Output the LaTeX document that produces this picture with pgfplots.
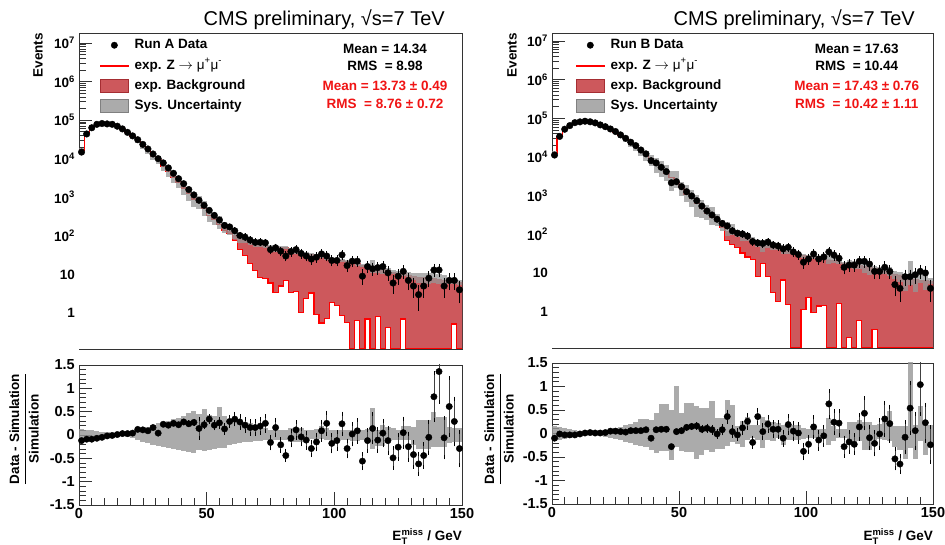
\documentclass[border=0pt]{standalone}
\usepackage{pgfplots}
\pgfplotsset{compat=1.18}
\usepackage{pgfplotstable}
\usepackage{amsmath}
\usepackage{fontspec}
\setmainfont{Liberation Sans}
\definecolor{bkgred}{RGB}{205,88,92}
\definecolor{bkgline}{RGB}{165,45,50}
\definecolor{zred}{RGB}{255,0,0}
\definecolor{sysgray}{RGB}{150,150,150}
\definecolor{statred}{RGB}{240,20,20}

\pgfplotstableread{
lo xc data derr mc z r rerr up dn
0 1 14800 122 16800 16800 -0.12 0.008 0.12 0.12
2 3 43600 209 47900 47900 -0.09 0.005 0.11 0.11
4 5 63100 251 69300 69300 -0.09 0.004 0.10 0.10
6 7 77600 279 83400 83400 -0.07 0.003 0.09 0.09
8 9 81300 285 85600 85600 -0.05 0.003 0.07 0.07
10 11 79400 282 81000 81000 -0.02 0.003 0.06 0.06
12 13 77600 279 78400 78400 -0.01 0.004 0.04 0.04
14 15 69200 263 68500 68500 0.01 0.004 0.03 0.03
16 17 58900 243 57200 57200 0.03 0.004 0.03 0.03
18 19 47900 219 46500 46500 0.03 0.005 0.04 0.04
20 21 38900 197 37400 37400 0.04 0.005 0.06 0.06
22 23 30900 176 27600 27600 0.12 0.006 0.10 0.10
24 25 23400 153 21100 21100 0.11 0.007 0.14 0.14
26 27 17800 133 16300 16300 0.09 0.008 0.18 0.18
28 29 13200 115 11400 11400 0.16 0.010 0.21 0.21
30 31 10000 100 9620 9620 0.04 0.010 0.25 0.24
32 33 7760 88 6310 6300 0.23 0.014 0.28 0.26
34 35 5750 76 4750 4740 0.21 0.016 0.31 0.28
36 37 4170 65 3340 3330 0.25 0.019 0.34 0.30
38 39 3020 55 2480 2470 0.22 0.022 0.37 0.32
40 41 2240 47 1750 1740 0.28 0.027 0.40 0.35
42 43 1580 40 1270 1260 0.24 0.031 0.48 0.37
44 45 1150 34 906 900 0.27 0.037 0.51 0.39
46 47 832 29 730 725 0.14 0.20 0.46 0.33
48 49 617 25 506 500 0.22 0.049 0.56 0.34
50 51 457 21 341 335 0.34 0.063 0.42 0.32
52 53 339 18 280 272 0.21 0.066 0.40 0.31
54 55 257 16 204 195 0.26 0.079 0.60 0.27
56 57 186 14 165 140 0.13 0.083 0.40 0.28
58 59 170 13 132 115 0.29 0.10 0.35 0.22
60 61 135 12 101 74 0.34 0.115 0.33 0.20
62 63 102 10 80 44 0.28 0.127 0.30 0.18
64 65 93 9.6 77 31 0.21 0.125 0.28 0.15
66 67 78 8.8 67 19 0.16 0.13 0.25 0.14
68 69 68 8.2 59 12.6 0.16 0.14 0.22 0.13
70 71 68 8.2 57 8.5 0.19 0.144 0.20 0.12
72 73 66 8.1 53 7.8 0.25 0.154 0.15 0.10
74 75 44 6.6 52 6.0 -0.16 0.127 0.10 0.10
76 77 49 7.0 42 3.4 0.16 0.166 0.10 0.10
78 79 40 6.3 51 5.0 -0.21 0.125 0.10 0.10
80 81 30 5.5 50 7.0 -0.44 0.10 0.11 0.11
82 83 39 6.2 42 3.4 -0.07 0.15 0.14 0.14
84 85 44 6.6 40 3.6 0.11 0.167 0.14 0.14
86 87 35 5.9 36 1.05 -0.04 0.16 0.14 0.14
88 89 30 5.5 34 2.35 -0.11 0.16 0.10 0.08
90 91 25 5.0 33 3.3 -0.29 0.14 0.10 0.08
92 93 28 5.3 31 0.9 -0.15 0.16 0.12 0.10
94 95 34 5.8 29 0.55 0.09 0.19 0.20 0.08
96 97 30 5.5 27 0.72 0.25 0.23 0.15 0.10
98 99 23 4.8 25 1.9 -0.18 0.17 0.10 0.10
100 101 23 4.8 24 1.6 -0.12 0.18 0.10 0.10
102 103 32 5.7 23 0.88 0.24 0.22 0.10 0.10
104 105 17 4.1 22 0.57 -0.29 0.17 0.10 0.10
106 107 22 4.7 21 0.12 0.02 0.22 0.10 0.12
108 109 22 4.7 19 0.65 0.09 0.23 0.10 0.12
110 111 9 3.0 17 0.12 -0.56 0.15 0.10 0.10
112 113 16 4.0 16 0.7 -0.12 0.22 0.12 0.12
114 115 14 3.7 15 0.12 0.14 0.30 0.57 0.29
116 117 15 3.9 14 0.8 -0.11 0.23 0.10 0.24
118 119 16 4.0 13.5 0.12 0.04 0.26 0.21 0.24
120 121 11 3.3 12.5 0.43 -0.12 0.27 0.18 0.10
122 123 6 2.4 11.5 0.12 -0.49 0.21 0.15 0.10
124 125 9 3.0 11 0.12 -0.26 0.25 0.10 0.10
126 127 12 3.5 10.5 0.7 0.05 0.30 0.20 0.11
128 129 7 2.6 9.5 0.12 -0.25 0.28 0.20 0.11
130 131 5 2.2 9 0.12 -0.42 0.26 0.18 0.21
132 133 3 1.7 8.5 0.12 -0.62 0.22 0.32 0.30
134 135 5 2.2 8.5 0.12 -0.44 0.25 0.32 0.30
136 137 8 2.8 8.2 0.12 -0.05 0.33 0.32 0.30
138 139 13 3.6 7.8 0.12 0.82 0.50 0.50 0.25
140 141 13 3.6 7.5 0.12 1.36 0.65 0.39 0.25
142 143 5 2.2 7 0.12 -0.06 0.42 0.39 0.25
144 145 7 2.6 6.8 0.12 0.61 0.61 0.18 0.18
146 147 7 2.6 6.5 0.52 0.29 0.49 0.15 0.15
148 149 4 2.0 6.2 0.12 -0.29 0.36 0.15 0.15
150 155 4 2.0 6.2 0.12 -0.29 0.36 0.15 0.15
}\tabA

\pgfplotstableread{
lo xc data derr mc z r rerr up dn
0 1 11200 106 12400 12400 -0.10 0.009 0.15 0.15
2 3 33900 184 34200 34200 -0.01 0.005 0.13 0.13
4 5 52000 228 53600 53600 -0.03 0.004 0.11 0.11
6 7 64600 254 66600 66600 -0.03 0.004 0.09 0.09
8 9 77000 277 79400 79400 -0.03 0.003 0.07 0.07
10 11 80600 284 81400 81400 -0.01 0.003 0.06 0.06
12 13 83800 289 83000 83000 0.01 0.003 0.04 0.04
14 15 81000 285 79400 79400 0.02 0.004 0.03 0.03
16 17 75900 275 75100 75100 0.01 0.004 0.03 0.03
18 19 67300 259 66600 66600 0.01 0.004 0.04 0.04
20 21 60500 246 59300 59300 0.02 0.004 0.07 0.07
22 23 52800 230 50300 50300 0.05 0.005 0.09 0.09
24 25 45400 213 43200 43200 0.05 0.005 0.11 0.11
26 27 37100 193 35700 35700 0.04 0.005 0.14 0.14
28 29 30300 174 29400 29400 0.03 0.006 0.19 0.19
30 31 24000 155 22600 22600 0.06 0.007 0.21 0.21
32 33 19600 140 18500 18500 0.06 0.008 0.25 0.25
34 35 15100 123 14200 14200 0.06 0.009 0.30 0.27
36 37 12000 110 11100 11100 0.08 0.010 0.31 0.28
38 39 8000 89 8900 8900 -0.10 0.010 0.29 0.35
40 41 7000 84 6480 6470 0.08 0.013 0.43 0.42
42 43 5400 73 4950 4940 0.09 0.015 0.63 0.38
44 45 4170 65 3830 3820 0.09 0.017 0.63 0.38
46 47 2150 46 2950 2940 -0.28 0.016 0.49 0.56
48 49 2290 48 2200 2190 0.04 0.022 1.02 0.28
50 51 1700 41 1600 1590 0.06 0.026 0.43 0.38
52 53 1260 35 1115 1105 0.13 0.032 0.65 0.40
54 55 980 31 852 840 0.15 0.037 0.65 0.40
56 57 740 27 638 625 0.16 0.043 0.58 0.55
58 59 537 23 493 480 0.09 0.047 0.55 0.45
60 61 400 20 360 348 0.11 0.055 0.55 0.36
62 63 316 18 293 280 0.08 0.061 0.70 0.40
64 65 245 16 247 232 -0.01 0.063 0.33 0.33
66 67 191 14 177 155 0.08 0.078 0.33 0.33
68 69 164 13 121 70 0.36 0.106 0.72 0.26
70 71 123 11 118 55 0.04 0.094 0.60 0.19
72 73 107 10 110 45 -0.03 0.094 0.15 0.22
74 75 102 10 92 33 0.12 0.111 0.26 0.29
76 77 90 9.5 78 26 0.26 0.133 0.35 0.14
78 79 65 8.1 72 22 -0.19 0.10 0.18 0.10
80 81 60 7.7 55 8 0.36 0.14 0.18 0.14
82 83 58 7.6 52 18 0.04 0.137 0.36 0.31
84 85 63 7.9 50 8 0.20 0.15 0.29 0.14
86 87 53 7.3 46 3.1 0.09 0.15 0.25 0.15
88 89 50 7.1 43 1.8 0.09 0.154 0.22 0.10
90 91 42 6.5 40 6.6 -0.10 0.139 0.18 0.24
92 93 46 6.8 37 1.5 0.19 0.175 0.22 0.14
94 95 35 5.9 33 0.12 0.05 0.176 0.18 0.14
96 97 30 5.5 30 0.12 0.01 0.184 0.18 0.14
98 99 19 4.4 28 1.15 -0.38 0.142 0.12 0.12
100 101 23 4.8 27 2.35 -0.23 0.16 0.10 0.10
102 103 31 5.6 26 0.93 0.14 0.205 0.10 0.10
104 105 23 4.8 25 1.4 -0.14 0.18 0.10 0.10
106 107 26 5.1 24 1.45 -0.05 0.19 0.10 0.10
108 109 35 5.9 22 0.12 0.63 0.27 0.33 0.24
110 111 29 5.4 21 0.12 0.24 0.23 0.15 0.15
112 113 24 4.9 19 1.6 0.22 0.25 0.10 0.10
114 115 14 3.7 18 0.12 -0.28 0.19 0.10 0.10
116 117 16 4.0 17 0.21 -0.18 0.205 0.25 0.20
118 119 16 4.0 16 0.12 -0.23 0.19 0.25 0.20
120 121 20 4.5 15.5 0.6 0.14 0.25 0.29 0.17
122 123 20 4.5 15 0.12 0.43 0.32 0.25 0.35
124 125 17 4.1 14 0.12 -0.09 0.22 0.25 0.35
126 127 11 3.3 13 0.35 -0.21 0.235 0.18 0.14
128 129 11 3.3 12 0.12 -0.01 0.295 0.21 0.12
130 131 14 3.7 11 0.12 0.31 0.34 0.33 0.14
132 133 11 3.3 10 0.12 0.21 0.36 0.47 0.17
134 135 5 2.2 9.5 0.12 -0.54 0.20 0.15 0.28
136 137 4 2.0 9 0.12 -0.65 0.17 0.15 0.35
138 139 8 2.8 7.5 0.12 -0.08 0.32 0.15 0.55
140 141 8 2.8 7 0.12 0.54 0.53 2.00 0.30
142 143 9 3.0 7 0.12 0.06 0.36 0.18 0.55
144 145 11 3.3 6.5 0.12 1.04 0.62 0.58 0.17
146 147 10 3.2 6.5 0.12 0.23 0.38 0.25 0.45
148 149 4 2.0 6.2 0.12 -0.24 0.37 0.18 0.18
150 155 4 2.0 6.2 0.12 -0.24 0.37 0.18 0.18
}\tabB

\newcommand{\lab}{\fontsize{13.5}{16}\selectfont\bfseries}

\pgfplotsset{
  cmsbase/.style={
    /pgfplots/scale only axis, /pgfplots/xmin=0, /pgfplots/xmax=150,
    /pgfplots/xtick={0,50,100,150}, /pgfplots/minor x tick num=9,
    /pgfplots/tick align=inside, /pgfplots/tick pos=left,
    /pgfplots/major tick length=13pt, /pgfplots/minor tick length=6.5pt,
    /pgfplots/tick style={black!80, line width=0.6pt},
    /pgfplots/axis line style={black!80, line width=0.8pt},
  },
  datalegend/.style={legend image code/.code={%
    \path[draw=none, fill=none] (0pt,-0.1pt) rectangle (28pt,0.1pt);
    \draw[draw=black, fill=black, line width=0.4pt] (14pt,0pt) circle (3.2pt);}},
  zlegend/.style={legend image code/.code={%
    \draw[draw=zred, fill=zred, line width=0.2pt] (0pt,-0.6pt) rectangle (28pt,0.6pt);}},
  bkglegend/.style={legend image code/.code={%
    \draw[fill=bkgred, draw=bkgline, line width=0.6pt] (0pt,-6.5pt) rectangle (28pt,6.5pt);}},
  syslegend/.style={legend image code/.code={%
    \draw[fill=sysgray!80, draw=gray, line width=0.6pt] (0pt,-6.5pt) rectangle (28pt,6.5pt);}},
}

\begin{document}
\begin{tikzpicture}
% ---------- left main ----------
\begin{axis}[cmsbase, at={(79pt,196pt)}, anchor=south west, width=383pt, height=316pt,
  ymode=log, log origin y=infty, ymin=0.117, ymax=1.8e7,
  xticklabels={},
  ytick={1,10,100,1000,10000,100000,1000000,10000000},
  yticklabels={\textbf{1},\textbf{10},\textbf{10\textsuperscript{2}},\textbf{10\textsuperscript{3}},\textbf{10\textsuperscript{4}},\textbf{10\textsuperscript{5}},\textbf{10\textsuperscript{6}},\textbf{10\textsuperscript{7}}},
  minor ytick={0.2,0.3,0.4,0.5,0.6,0.7,0.8,0.9,2,3,4,5,6,7,8,9,20,30,40,50,60,70,80,90,200,300,400,500,600,700,800,900,2000,3000,4000,5000,6000,7000,8000,9000,20000,30000,40000,50000,60000,70000,80000,90000,200000,300000,400000,500000,600000,700000,800000,900000,2000000,3000000,4000000,5000000,6000000,7000000,8000000,9000000},
  yticklabel style={font=\fontsize{13.5}{16}\selectfont, inner sep=0pt, xshift=-4pt},
  legend cell align=left,
  legend style={at={(axis description cs:0.055,0.985)}, anchor=north west, draw=none, fill=none, inner sep=0pt, outer sep=0pt, row sep=5.3pt, column sep=5pt, font=\lab, nodes={inner sep=1pt, text height=10pt, text depth=3pt}}]
  \addlegendimage{datalegend}
  \addlegendentry{Run A Data}
  \addlegendimage{zlegend}
  \addlegendentry{exp. Z {\mdseries$\rightarrow$ μ\textsuperscript{+}μ\textsuperscript{-}}}
  \addlegendimage{bkglegend}
  \addlegendentry{exp. Background}
  \addlegendimage{syslegend}
  \addlegendentry{Sys. Uncertainty}
  \addplot[const plot, fill=bkgred, draw=bkgred, forget plot] table[x=lo, y=mc]{\tabA} \closedcycle;
  \addplot[const plot, fill=white, draw=none, forget plot] table[x=lo, y=z]{\tabA} \closedcycle;
  \addplot[const plot, draw=zred, line width=1.2pt, no markers, forget plot] table[x=lo, y=z]{\tabA};
  \addplot[draw=none, no markers, forget plot, error bars/.cd, y dir=both, y explicit, error mark=none,
    error bar style={line width=5.11pt, draw=sysgray, draw opacity=0.75}]
    table[x=xc, y=mc, y error plus expr=\thisrow{mc}*\thisrow{up}, y error minus expr=\thisrow{mc}*\thisrow{dn}]{\tabA};
  \addplot[only marks, mark=*, black, mark size=3.3pt, forget plot, error bars/.cd, y dir=both, y explicit,
    error mark options={black, mark size=2pt, line width=0.7pt}, error bar style={black, line width=0.7pt}]
    table[x=xc, y=data, y error=derr]{\tabA};
  \node[font=\lab] at (axis description cs:0.799,0.949) {Mean = 14.34};
  \node[font=\lab] at (axis description cs:0.799,0.896) {RMS\ \ = 8.98};
  \node[font=\lab, text=statred] at (axis description cs:0.799,0.832) {Mean = 13.73 ± 0.49};
  \node[font=\lab, text=statred] at (axis description cs:0.799,0.775) {RMS\ \ = 8.76 ± 0.72};
\end{axis}
% ---------- left ratio ----------
\begin{axis}[cmsbase, at={(79pt,40pt)}, anchor=south west, width=383pt, height=140pt,
  ymin=-1.5, ymax=1.5, ytick={-1.5,-1,-0.5,0,0.5,1,1.5}, minor y tick num=4,
  yticklabels={\textbf{-1.5},\textbf{-1},\textbf{-0.5},\textbf{0},\textbf{0.5},\textbf{1},\textbf{1.5}},
  xticklabels={\textbf{0},\textbf{50},\textbf{100},\textbf{150}},
  yticklabel style={font=\fontsize{14.5}{17}\selectfont, inner sep=0pt, xshift=-4pt},
  xticklabel style={font=\fontsize{14.5}{17}\selectfont, inner sep=0pt, yshift=-3pt}]
  \addplot[draw=none, no markers, forget plot, error bars/.cd, y dir=both, y explicit, error mark=none,
    error bar style={line width=5.11pt, draw=sysgray, draw opacity=0.8}]
    table[x=xc, y expr=0, y error plus=up, y error minus=dn]{\tabA};
  \addplot[only marks, mark=*, black, mark size=3.2pt, forget plot, error bars/.cd, y dir=both, y explicit,
    error mark options={black, mark size=2pt, line width=0.7pt}, error bar style={black!75, line width=0.7pt}]
    table[x=xc, y=r, y error=rerr]{\tabA};
\end{axis}
% ---------- right main ----------
\begin{axis}[cmsbase, at={(552pt,197pt)}, anchor=south west, width=381pt, height=315pt,
  ymode=log, log origin y=infty, ymin=0.115, ymax=1.6e7,
  xticklabels={},
  ytick={1,10,100,1000,10000,100000,1000000,10000000},
  yticklabels={\textbf{1},\textbf{10},\textbf{10\textsuperscript{2}},\textbf{10\textsuperscript{3}},\textbf{10\textsuperscript{4}},\textbf{10\textsuperscript{5}},\textbf{10\textsuperscript{6}},\textbf{10\textsuperscript{7}}},
  minor ytick={0.2,0.3,0.4,0.5,0.6,0.7,0.8,0.9,2,3,4,5,6,7,8,9,20,30,40,50,60,70,80,90,200,300,400,500,600,700,800,900,2000,3000,4000,5000,6000,7000,8000,9000,20000,30000,40000,50000,60000,70000,80000,90000,200000,300000,400000,500000,600000,700000,800000,900000,2000000,3000000,4000000,5000000,6000000,7000000,8000000,9000000},
  yticklabel style={font=\fontsize{13.5}{16}\selectfont, inner sep=0pt, xshift=-4pt},
  legend cell align=left,
  legend style={at={(axis description cs:0.063,0.985)}, anchor=north west, draw=none, fill=none, inner sep=0pt, outer sep=0pt, row sep=5.3pt, column sep=5pt, font=\lab, nodes={inner sep=1pt, text height=10pt, text depth=3pt}}]
  \addlegendimage{datalegend}
  \addlegendentry{Run B Data}
  \addlegendimage{zlegend}
  \addlegendentry{exp. Z {\mdseries$\rightarrow$ μ\textsuperscript{+}μ\textsuperscript{-}}}
  \addlegendimage{bkglegend}
  \addlegendentry{exp. Background}
  \addlegendimage{syslegend}
  \addlegendentry{Sys. Uncertainty}
  \addplot[const plot, fill=bkgred, draw=bkgred, forget plot] table[x=lo, y=mc]{\tabB} \closedcycle;
  \addplot[const plot, fill=white, draw=none, forget plot] table[x=lo, y=z]{\tabB} \closedcycle;
  \addplot[const plot, draw=zred, line width=1.2pt, no markers, forget plot] table[x=lo, y=z]{\tabB};
  \addplot[draw=none, no markers, forget plot, error bars/.cd, y dir=both, y explicit, error mark=none,
    error bar style={line width=5.08pt, draw=sysgray, draw opacity=0.75}]
    table[x=xc, y=mc, y error plus expr=\thisrow{mc}*\thisrow{up}, y error minus expr=\thisrow{mc}*\thisrow{dn}]{\tabB};
  \addplot[only marks, mark=*, black, mark size=3.3pt, forget plot, error bars/.cd, y dir=both, y explicit,
    error mark options={black, mark size=2pt, line width=0.7pt}, error bar style={black, line width=0.7pt}]
    table[x=xc, y=data, y error=derr]{\tabB};
  \node[font=\lab] at (axis description cs:0.80,0.949) {Mean = 17.63};
  \node[font=\lab] at (axis description cs:0.80,0.895) {RMS\ \ = 10.44};
  \node[font=\lab, text=statred] at (axis description cs:0.80,0.832) {Mean = 17.43 ± 0.76};
  \node[font=\lab, text=statred] at (axis description cs:0.80,0.775) {RMS\ \ = 10.42 ± 1.11};
\end{axis}
% ---------- right ratio ----------
\begin{axis}[cmsbase, at={(552pt,41pt)}, anchor=south west, width=381pt, height=141pt,
  ymin=-1.5, ymax=1.5, ytick={-1.5,-1,-0.5,0,0.5,1,1.5}, minor y tick num=4,
  yticklabels={\textbf{-1.5},\textbf{-1},\textbf{-0.5},\textbf{0},\textbf{0.5},\textbf{1},\textbf{1.5}},
  xticklabels={\textbf{0},\textbf{50},\textbf{100},\textbf{150}},
  yticklabel style={font=\fontsize{14.5}{17}\selectfont, inner sep=0pt, xshift=-4pt},
  xticklabel style={font=\fontsize{14.5}{17}\selectfont, inner sep=0pt, yshift=-3pt}]
  \addplot[draw=none, no markers, forget plot, error bars/.cd, y dir=both, y explicit, error mark=none,
    error bar style={line width=5.08pt, draw=sysgray, draw opacity=0.8}]
    table[x=xc, y expr=0, y error plus=up, y error minus=dn]{\tabB};
  \addplot[only marks, mark=*, black, mark size=3.2pt, forget plot, error bars/.cd, y dir=both, y explicit,
    error mark options={black, mark size=2pt, line width=0.7pt}, error bar style={black!75, line width=0.7pt}]
    table[x=xc, y=r, y error=rerr]{\tabB};
\end{axis}
% ---------- titles and labels ----------
\node[anchor=base east, inner sep=0pt, font=\fontsize{20}{24}\selectfont] at (445pt,519pt) {CMS preliminary, √s=7 TeV};
\node[anchor=base east, inner sep=0pt, font=\fontsize{20}{24}\selectfont] at (915pt,519pt) {CMS preliminary, √s=7 TeV};
\node[rotate=90, anchor=east, inner sep=0pt, font=\lab] at (38pt,512pt) {Events};
\node[rotate=90, anchor=east, inner sep=0pt, font=\lab] at (512pt,512pt) {Events};
\node[rotate=90, inner sep=0pt, font=\lab] at (24pt,116pt) {$\genfrac{}{}{0.9pt}{0}{\text{\bfseries Data - Simulation}}{\text{\bfseries Simulation}}$};
\node[rotate=90, inner sep=0pt, font=\lab] at (499pt,116pt) {$\genfrac{}{}{0.9pt}{0}{\text{\bfseries Data - Simulation}}{\text{\bfseries Simulation}}$};
\node[anchor=base east, inner sep=0pt, font=\lab] at (462pt,4pt) {E$^{\text{\bfseries miss}}_{\text{\bfseries T}}$ / GeV};
\node[anchor=base east, inner sep=0pt, font=\lab] at (933pt,4pt) {E$^{\text{\bfseries miss}}_{\text{\bfseries T}}$ / GeV};
\pgfresetboundingbox
\path[use as bounding box] (0pt,0pt) rectangle (945pt,545pt);
\end{tikzpicture}
\end{document}
